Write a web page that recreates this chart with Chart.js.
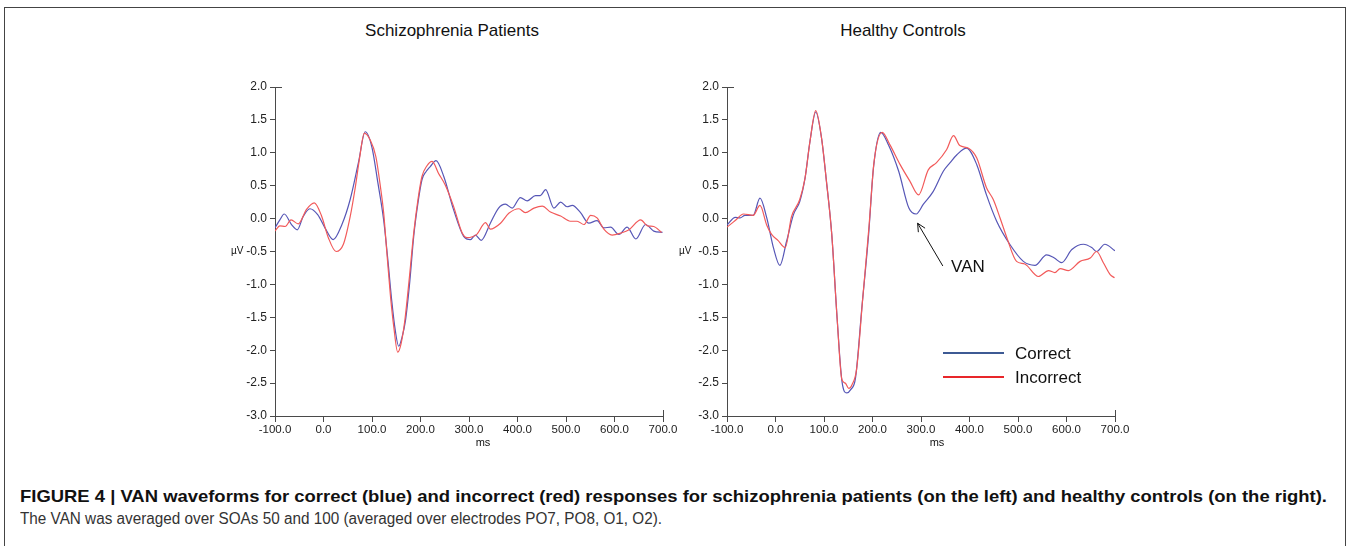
<!DOCTYPE html>
<html>
<head>
<meta charset="utf-8">
<script src="https://cdn.jsdelivr.net/npm/chart.js@4.4.1/dist/chart.umd.min.js"></script>
<style>
    html, body { margin: 0; padding: 0; background: #fff; }
    body { width: 1352px; height: 546px; position: relative; overflow: hidden; font-family: "Liberation Sans", Arial, sans-serif; color: #111; }
    .frame { position: absolute; left: 4px; top: 7px; width: 1340px; height: 600px; border: 1px solid #444; }
    .panel { position: absolute; top: 60px; width: 500px; height: 400px; }
    .title { position: absolute; top: 21px; font-size: 17px; line-height: 20px; transform: translateX(-50%); white-space: nowrap; }
    .unit { position: absolute; font-size: 10px; line-height: 12px; white-space: nowrap; }
    .xunit { font-size: 11px; transform: translateX(-50%); }
    .caption { position: absolute; left: 20px; line-height: 20px; white-space: nowrap; transform-origin: 0 50%; font-family: "Liberation Sans Narrow", "Liberation Sans", Arial, sans-serif; }
    .caption.bold { font-weight: bold; font-size: 17px; color: #111; }
    .caption.plain { font-size: 16px; color: #333; }
</style>
</head>
<body>
<div class="frame"></div>

<div class="title" style="left:452px">Schizophrenia Patients</div>
<div class="title" style="left:903px">Healthy Controls</div>

<div class="panel" style="left:200px"><canvas id="chart-left" width="500" height="400"></canvas></div>
<div class="panel" style="left:650px"><canvas id="chart-right" width="500" height="400"></canvas></div>

<div class="unit" style="left:231px; top:245px">µV</div>
<div class="unit" style="left:679px; top:245px">µV</div>
<div class="unit xunit" style="left:483px; top:436px">ms</div>
<div class="unit xunit" style="left:937px; top:436px">ms</div>

<div class="caption bold" data-width="1307" style="top:487px">FIGURE 4 | VAN waveforms for correct (blue) and incorrect (red) responses for schizophrenia patients (on the left) and healthy controls (on the right).</div>
<div class="caption plain" data-width="642" style="top:509px">The VAN was averaged over SOAs 50 and 100 (averaged over electrodes PO7, PO8, O1, O2).</div>

<script>
// axis ticks
const msTicks = [-100, 0, 100, 200, 300, 400, 500, 600, 700];
const uvTicks = [-3.0, -2.5, -2.0, -1.5, -1.0, -0.5, 0.0, 0.5, 1.0, 1.5, 2.0];
const seriesNames = ['Correct', 'Incorrect'];

// Schizophrenia patients
const leftCorrectMs = [-100,-90,-81,-66,-54,-42,-28,-12,3,20,38,55,72,86,100,112,124,133,141,148,155,162,169,178,186,195,203,212,220,232,248,268,289,303,313,325,344,361,375,389,406,420,437,447,458,475,489,502,513,530,547,564,578,592,609,626,644,664,681,699];
const leftCorrectUv = [-0.14,-0.02,0.07,-0.09,-0.17,0.03,0.15,0.06,-0.14,-0.32,-0.09,0.29,0.85,1.32,1.08,0.55,-0.02,-0.65,-1.27,-1.70,-1.94,-1.80,-1.55,-0.95,-0.27,0.25,0.59,0.72,0.79,0.88,0.64,0.14,-0.27,-0.32,-0.25,-0.33,-0.07,0.16,0.22,0.16,0.32,0.27,0.35,0.35,0.44,0.16,0.25,0.18,0.20,0.09,-0.07,-0.03,-0.14,-0.13,-0.24,-0.13,-0.31,-0.09,-0.19,-0.21];
const leftIncorrectMs = [-100,-90,-79,-67,-52,-35,-19,-4,10,26,41,55,65,75,84,96,108,118,124,131,138,145,153,160,168,177,186,195,203,213,224,237,251,268,286,296,316,334,344,365,382,403,416,434,451,468,489,509,523,537,551,564,578,595,613,630,654,668,681,697];
const leftIncorrectUv = [-0.19,-0.11,-0.12,-0.02,-0.08,0.14,0.24,0.04,-0.29,-0.50,-0.39,0.03,0.45,0.95,1.30,1.20,0.94,0.45,0.09,-0.55,-1.17,-1.65,-2.03,-1.90,-1.53,-0.90,-0.22,0.30,0.64,0.80,0.87,0.69,0.51,0.19,-0.22,-0.29,-0.24,-0.06,-0.16,-0.07,0.08,0.15,0.09,0.16,0.19,0.10,0.04,-0.04,-0.04,-0.09,0.05,0.01,-0.16,-0.25,-0.22,-0.17,-0.02,-0.11,-0.12,-0.21];

// Healthy controls
const rightCorrectMs = [-100,-83,-73,-63,-46,-32,-18,-4,9,23,37,50,61,71,83,95,105,116,127,137,147,155,165,178,192,202,217,233,254,275,290,305,325,346,360,374,394,415,435,456,483,511,535,559,575,590,611,635,652,662,679,700];
const rightCorrectUv = [-0.10,0.02,0.01,0.05,0.05,0.31,0.01,-0.45,-0.71,-0.34,0.06,0.26,0.62,1.17,1.62,1.22,0.57,-0.24,-1.51,-2.47,-2.65,-2.60,-2.42,-1.36,-0.24,0.77,1.31,1.12,0.72,0.16,0.07,0.22,0.41,0.72,0.85,0.97,1.07,0.82,0.36,-0.04,-0.39,-0.65,-0.71,-0.55,-0.60,-0.67,-0.47,-0.39,-0.44,-0.50,-0.39,-0.49];
const rightIncorrectMs = [-100,-83,-66,-46,-32,-18,-8,5,20,33,50,61,71,83,95,105,116,127,137,144,151,158,167,180,193,203,220,236,257,277,295,315,332,353,367,380,398,415,435,449,463,477,497,514,542,563,576,587,604,628,649,662,676,690,699];
const rightIncorrectUv = [-0.13,-0.03,0.07,0.05,0.20,-0.10,-0.24,-0.33,-0.44,0.03,0.29,0.62,1.17,1.64,1.22,0.57,-0.24,-1.51,-2.45,-2.50,-2.58,-2.52,-2.30,-1.20,-0.10,0.85,1.31,1.12,0.82,0.57,0.36,0.74,0.85,1.05,1.26,1.11,1.07,0.92,0.47,0.29,0.01,-0.29,-0.65,-0.69,-0.88,-0.79,-0.82,-0.76,-0.79,-0.65,-0.60,-0.50,-0.67,-0.85,-0.90];

// arrow note on the right panel (data units)
const vanNote = { text: 'VAN', tipMs: 293, tipUv: -0.07, tailMs: 345, tailUv: -0.72, textMs: 362, textUv: -0.74 };

const BLUE = '#5656b6';
const RED = '#f25a5a';
const LEGEND_COLORS = ['#3d5a94', '#e8262a'];
const AXIS = '#4a4a4a';
const FONT = '"Liberation Sans", Arial, sans-serif';

const toPoints = (xs, ys) => xs.map((x, i) => ({ x: x, y: ys[i] }));

// little end caps on the axes (top of y, right end of x)
const axisCaps = {
    id: 'axisCaps',
    afterDraw(chart) {
        const { ctx, chartArea: a } = chart;
        const top = Math.round(a.top) + 0.5;
        const right = Math.round(a.right) + 0.5;
        ctx.save();
        ctx.strokeStyle = AXIS;
        ctx.lineWidth = 1;
        ctx.beginPath();
        ctx.moveTo(Math.round(a.left), top);
        ctx.lineTo(Math.round(a.left) + 7, top);
        ctx.moveTo(right, Math.round(a.bottom));
        ctx.lineTo(right, Math.round(a.bottom) - 6);
        ctx.stroke();
        ctx.restore();
    }
};

const legendBox = {
    id: 'legendBox',
    afterDraw(chart) {
        if (!chart.options.plugins.legendBox.show) return;
        const ctx = chart.ctx;
        ctx.save();
        ctx.font = `17px ${FONT}`;
        ctx.textBaseline = 'middle';
        chart.data.datasets.forEach((ds, i) => {
            const y = 293 + i * 24;
            ctx.strokeStyle = LEGEND_COLORS[i];
            ctx.lineWidth = 2;
            ctx.beginPath();
            ctx.moveTo(293, y);
            ctx.lineTo(354, y);
            ctx.stroke();
            ctx.fillStyle = '#111';
            ctx.fillText(ds.label, 365, y + 1);
        });
        ctx.restore();
    }
};

const arrowNote = {
    id: 'arrowNote',
    afterDraw(chart) {
        const note = chart.options.plugins.arrowNote.note;
        if (!note) return;
        const { ctx, scales } = chart;
        const tx = scales.x.getPixelForValue(note.tipMs), ty = scales.y.getPixelForValue(note.tipUv);
        const sx = scales.x.getPixelForValue(note.tailMs), sy = scales.y.getPixelForValue(note.tailUv);
        const ang = Math.atan2(ty - sy, tx - sx);
        ctx.save();
        ctx.strokeStyle = '#111';
        ctx.lineWidth = 1;
        ctx.beginPath();
        ctx.moveTo(sx, sy);
        ctx.lineTo(tx, ty);
        [0.45, -0.45].forEach(d => {
            ctx.moveTo(tx, ty);
            ctx.lineTo(tx - 9 * Math.cos(ang + d), ty - 9 * Math.sin(ang + d));
        });
        ctx.stroke();
        ctx.fillStyle = '#111';
        ctx.font = `17px ${FONT}`;
        ctx.textBaseline = 'middle';
        ctx.fillText(note.text, scales.x.getPixelForValue(note.textMs), scales.y.getPixelForValue(note.textUv));
        ctx.restore();
    }
};

const makeChart = (canvasId, correct, incorrect, axisWidth, extra) => {
    return new Chart(document.getElementById(canvasId), {
        type: 'line',
        data: {
            datasets: [
                { label: seriesNames[0], data: correct, borderColor: BLUE, borderWidth: 1.2, pointRadius: 0, cubicInterpolationMode: 'monotone', order: 2 },
                { label: seriesNames[1], data: incorrect, borderColor: RED, borderWidth: 1.2, pointRadius: 0, cubicInterpolationMode: 'monotone', order: 1 }
            ]
        },
        options: {
            responsive: false,
            animation: false,
            layout: { padding: { left: 0, top: 27, right: 500 - axisWidth - 388, bottom: 0 } },
            plugins: {
                legend: { display: false },
                tooltip: { enabled: false },
                legendBox: { show: extra.legend },
                arrowNote: { note: extra.note }
            },
            scales: {
                x: {
                    type: 'linear',
                    min: msTicks[0],
                    max: msTicks[msTicks.length - 1],
                    afterBuildTicks: s => { s.ticks = msTicks.map(v => ({ value: v })); },
                    afterFit: s => { s.height = 44; },
                    ticks: { callback: v => v.toFixed(1), color: '#222', font: { family: FONT, size: 11.5 }, padding: 1, maxRotation: 0, autoSkip: false },
                    grid: { drawOnChartArea: false, drawTicks: true, tickLength: 6, color: AXIS },
                    border: { display: true, color: AXIS }
                },
                y: {
                    type: 'linear',
                    min: uvTicks[0],
                    max: uvTicks[uvTicks.length - 1],
                    afterBuildTicks: s => { s.ticks = uvTicks.map(v => ({ value: v })); },
                    afterFit: s => { s.width = axisWidth; },
                    ticks: { callback: v => v.toFixed(1), color: '#222', font: { family: FONT, size: 12 }, padding: 3, autoSkip: false },
                    grid: { drawOnChartArea: false, drawTicks: true, tickLength: 5, color: AXIS },
                    border: { display: true, color: AXIS }
                }
            }
        },
        plugins: [axisCaps, legendBox, arrowNote]
    });
};

makeChart('chart-left', toPoints(leftCorrectMs, leftCorrectUv), toPoints(leftIncorrectMs, leftIncorrectUv), 75, { legend: false, note: null });
makeChart('chart-right', toPoints(rightCorrectMs, rightCorrectUv), toPoints(rightIncorrectMs, rightIncorrectUv), 77, { legend: true, note: vanNote });

// squeeze caption lines to the width they have in the figure
document.querySelectorAll('.caption').forEach(el => {
    const w = el.getBoundingClientRect().width;
    el.style.transform = `scaleX(${+el.dataset.width / w})`;
});
</script>
</body>
</html>
